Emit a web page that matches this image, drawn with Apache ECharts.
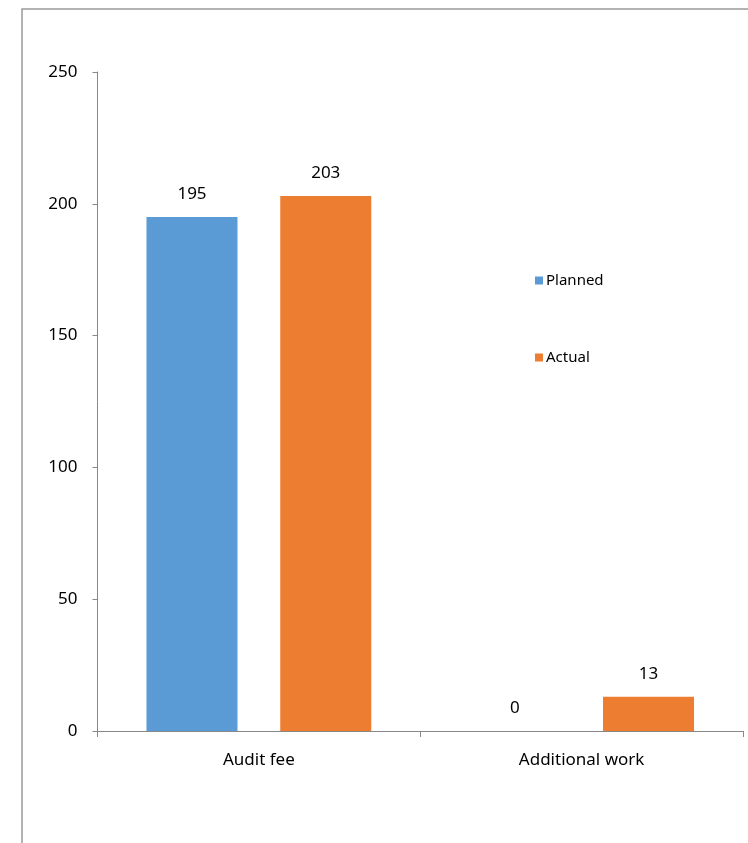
<!DOCTYPE html>
<html>
<head>
<meta charset="utf-8">
<script src="https://cdn.jsdelivr.net/npm/echarts@6/dist/echarts.min.js"></script>
<style>
html,body{margin:0;padding:0;background:#fff;}
#chart{width:748px;height:843px;}
</style>
</head>
<body>
<div id="chart"></div>
<script>
const categories = ['Audit fee', 'Additional work'];
const planned = [195, 0];
const actual = [203, 13];
const yTicks = [0, 50, 100, 150, 200, 250];

const chart = echarts.init(document.getElementById('chart'));
const font = 'Noto Sans';
chart.setOption({
  animation: false,
  backgroundColor: '#fff',
  graphic: [{
    type: 'rect',
    shape: { x: 22, y: 9, width: 760, height: 860 },
    style: { fill: 'none', stroke: '#9a9a9a', lineWidth: 1.5 },
    silent: true
  }],
  grid: { left: 97.5, top: 72, right: 5, bottom: 112, containLabel: false },
  legend: {
    orient: 'vertical',
    left: 530,
    top: 268,
    itemGap: 62,
    itemWidth: 8,
    itemHeight: 8,
    icon: 'rect',
    textStyle: { fontFamily: font, fontSize: 15, color: '#000', padding: [0,0,0,-2] },
    data: ['Planned', 'Actual']
  },
  xAxis: {
    type: 'category',
    data: categories,
    axisLine: { lineStyle: { color: '#888', width: 1 } },
    axisTick: { show: true, alignWithLabel: false, length: 6, lineStyle: { color: '#888' } },
    axisLabel: { fontFamily: font, fontSize: 17, color: '#000', margin: 21 }
  },
  yAxis: {
    type: 'value',
    min: yTicks[0],
    max: yTicks[yTicks.length - 1],
    interval: yTicks[1] - yTicks[0],
    axisLine: { show: true, lineStyle: { color: '#888', width: 1 } },
    axisTick: { show: true, length: 5, lineStyle: { color: '#888' } },
    splitLine: { show: false },
    axisLabel: { fontFamily: font, fontSize: 17, color: '#000', margin: 20 }
  },
  series: [
    {
      name: 'Planned', type: 'bar', data: planned,
      barWidth: 91, barGap: '47%',
      itemStyle: { color: '#5B9BD5' },
      label: { show: true, position: 'top', distance: 14, fontFamily: font, fontSize: 17, color: '#000' }
    },
    {
      name: 'Actual', type: 'bar', data: actual,
      barWidth: 91, barGap: '47%',
      itemStyle: { color: '#ED7D31' },
      label: { show: true, position: 'top', distance: 14, fontFamily: font, fontSize: 17, color: '#000' }
    }
  ]
});
</script>
</body>
</html>
